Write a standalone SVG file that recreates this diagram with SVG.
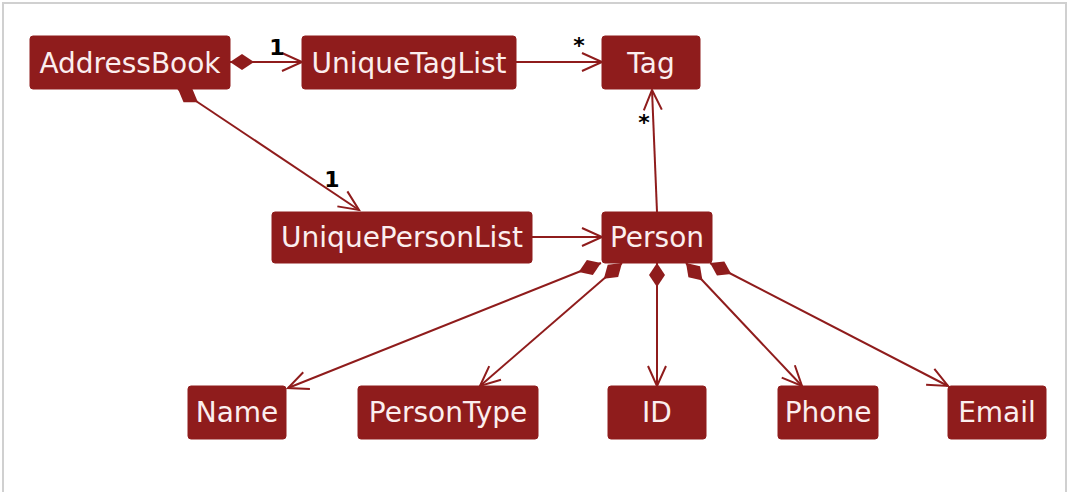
<svg xmlns="http://www.w3.org/2000/svg" width="1068" height="492" viewBox="0 0 1068 492">
<style>
.node rect{fill:#8f1c1c;stroke:#8f1c1c;stroke-width:1}
.node text{fill:#fbeeee;font-family:"DejaVu Sans",Verdana,sans-serif;font-size:28px;text-anchor:middle}
.edge{stroke:#8f1c1c;stroke-width:2;fill:none}
.lbl{fill:#000;font-family:"DejaVu Sans",sans-serif;font-weight:bold;font-size:22px;text-anchor:middle}
</style>
<defs>
<marker id="arr" markerUnits="userSpaceOnUse" markerWidth="24" markerHeight="22" refX="21" refY="11" orient="auto" overflow="visible">
<path d="M1,2 L21,11 L1,20" fill="none" stroke="#8f1c1c" stroke-width="2"/>
</marker>
<marker id="dia" markerUnits="userSpaceOnUse" markerWidth="26" markerHeight="18" refX="1" refY="9" orient="auto" overflow="visible">
<path d="M1,9 L13,1 L25,9 L13,17 Z" fill="#8f1c1c"/>
</marker>
</defs>
<rect x="3" y="3" width="1063" height="520" fill="#fff" stroke="#d0d0d0" stroke-width="2"/>
<g id="connectors">
<path class="edge" d="M230,62 L302,62" marker-start="url(#dia)" marker-end="url(#arr)"/>
<path class="edge" d="M516,62 L602,62" marker-end="url(#arr)"/>
<path class="edge" d="M178,89 L359,210" marker-start="url(#dia)" marker-end="url(#arr)"/>
<path class="edge" d="M532,237 L602,237" marker-end="url(#arr)"/>
<path class="edge" d="M657,212 L652,90" marker-end="url(#arr)"/>
<path class="edge" d="M601,263 L288,388" marker-start="url(#dia)" marker-end="url(#arr)"/>
<path class="edge" d="M622,263 L480,386" marker-start="url(#dia)" marker-end="url(#arr)"/>
<path class="edge" d="M657,263 L657,386" marker-start="url(#dia)" marker-end="url(#arr)"/>
<path class="edge" d="M686,263 L802,386" marker-start="url(#dia)" marker-end="url(#arr)"/>
<path class="edge" d="M710,263 L948,386" marker-start="url(#dia)" marker-end="url(#arr)"/>
<text class="lbl" x="277" y="55">1</text>
<text class="lbl" x="579" y="53">*</text>
<text class="lbl" x="644" y="130">*</text>
<text class="lbl" x="332" y="187">1</text>
</g>
<g id="AddressBook" class="node"><rect x="30" y="36" width="200" height="53" rx="3"/><text x="130" y="73">AddressBook</text></g>
<g id="UniqueTagList" class="node"><rect x="302" y="36" width="214" height="53" rx="3"/><text x="409" y="73">UniqueTagList</text></g>
<g id="Tag" class="node"><rect x="602" y="36" width="98" height="53" rx="3"/><text x="651" y="73">Tag</text></g>
<g id="UniquePersonList" class="node"><rect x="272" y="212" width="260" height="51" rx="3"/><text x="402" y="247">UniquePersonList</text></g>
<g id="Person" class="node"><rect x="602" y="212" width="110" height="51" rx="3"/><text x="657" y="247">Person</text></g>
<g id="Name" class="node"><rect x="188" y="386" width="98" height="53" rx="3"/><text x="237" y="422">Name</text></g>
<g id="PersonType" class="node"><rect x="358" y="386" width="180" height="53" rx="3"/><text x="448" y="422">PersonType</text></g>
<g id="ID" class="node"><rect x="608" y="386" width="98" height="53" rx="3"/><text x="657" y="422">ID</text></g>
<g id="Phone" class="node"><rect x="778" y="386" width="100" height="53" rx="3"/><text x="828" y="422">Phone</text></g>
<g id="Email" class="node"><rect x="948" y="386" width="98" height="53" rx="3"/><text x="997" y="422">Email</text></g>
</svg>
